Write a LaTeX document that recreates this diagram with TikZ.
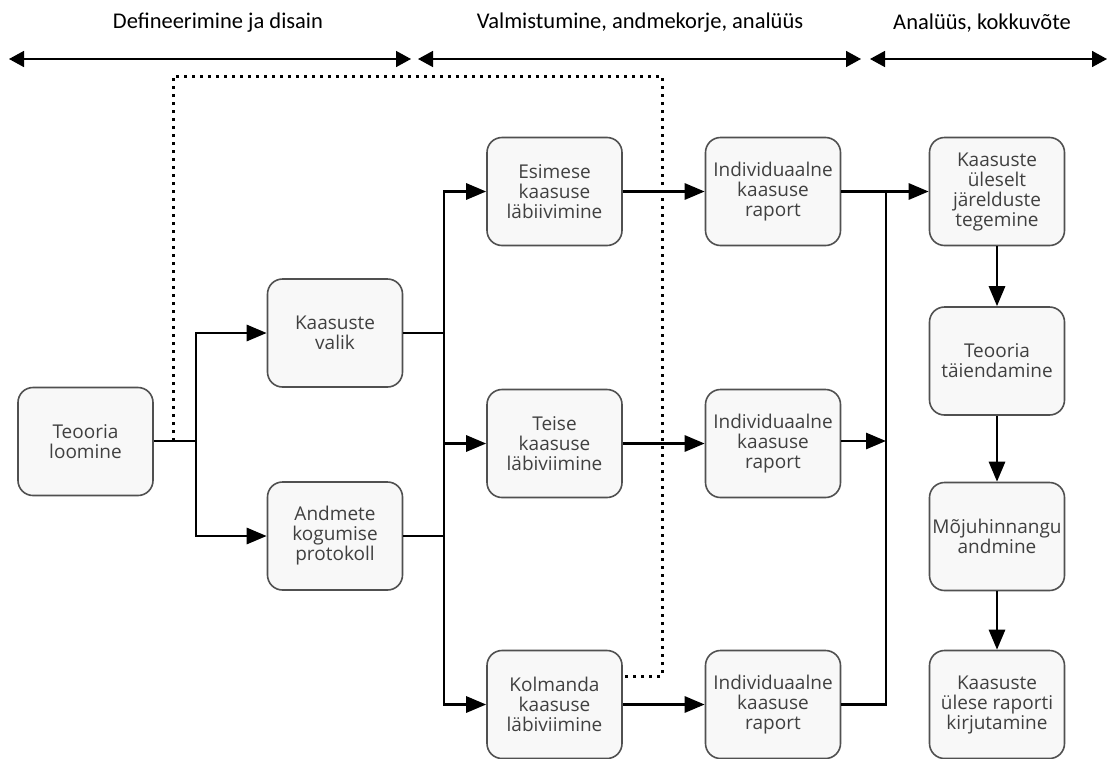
\documentclass[tikz,border=0pt]{standalone}
\usepackage{fontspec}
\setmainfont{Open Sans}
\newfontfamily\hdrfont{Carlito}
\usetikzlibrary{arrows.meta,calc}
\definecolor{boxline}{HTML}{505050}
\definecolor{boxfill}{HTML}{F8F8F8}
\definecolor{boxtext}{HTML}{404040}
\tikzset{
  stepbox/.style={draw=boxline, line width=1.6pt, fill=boxfill, rounded corners=15pt,
    minimum width=135pt, minimum height=108pt, inner sep=2pt, align=center,
    text=boxtext, font=\fontsize{19}{20}\selectfont},
  flow/.style={line width=2.9pt, draw=black},
  flowarrow/.style={flow, -{Triangle[length=20pt,width=16pt]}},
  feedback/.style={line width=3pt, draw=black, dash pattern=on 3pt off 5pt},
  phase/.style={line width=1.6pt, {Triangle[length=15pt,width=16pt]}-{Triangle[length=15pt,width=16pt]}},
  phasetext/.style={font=\hdrfont\fontsize{22.5}{26}\selectfont, text=black}
}
\begin{document}
\begin{tikzpicture}[x=1pt,y=-1pt]
\useasboundingbox (0,0) rectangle (1110,758);

% phase headings
\node[phasetext] (h1) at (218,23) {Defineerimine ja disain};
\node[phasetext] (h2) at (640,23) {Valmistumine, andmekorje, analüüs};
\node[phasetext] (h3) at (982,23) {Analüüs, kokkuvõte};
\coordinate (p1a) at (9,59);   \coordinate (p1b) at (411,59);
\coordinate (p2a) at (418,59); \coordinate (p2b) at (861,59);
\coordinate (p3a) at (870,59); \coordinate (p3b) at (1107,59);
\draw[phase] (p1a) -- (p1b);
\draw[phase] (p2a) -- (p2b);
\draw[phase] (p3a) -- (p3b);

% process steps
\node[stepbox] (teo)   at (85.5,441.5) {Teooria\\loomine};
\node[stepbox] (valik) at (335,333)    {Kaasuste\\valik};
\node[stepbox] (andm)  at (335,536)    {Andmete\\kogumise\\protokoll};
\node[stepbox] (es)    at (554.5,191.5) {Esimese\\kaasuse\\läbiivimine};
\node[stepbox] (te)    at (554.5,443.5) {Teise\\kaasuse\\läbiviimine};
\node[stepbox] (ko)    at (554.5,704.5) {Kolmanda\\kaasuse\\läbiviimine};
\node[stepbox] (r1)    at (773,191.5)  {Individuaalne\\kaasuse\\raport};
\node[stepbox] (r2)    at (773,443.5)  {Individuaalne\\kaasuse\\raport};
\node[stepbox] (r3)    at (773,704.5)  {Individuaalne\\kaasuse\\raport};
\node[stepbox] (k1)    at (997,191.5)  {Kaasuste\\üleselt\\järelduste\\tegemine};
\node[stepbox] (k2)    at (997,361)    {Teooria\\täiendamine};
\node[stepbox] (k3)    at (997,536.5)  {Mõjuhinnangu\\andmine};
\node[stepbox] (k4)    at (997,704.5)  {Kaasuste\\ülese raporti\\kirjutamine};

% junction points
\coordinate (j1) at (196,441);
\coordinate (j2) at (444,441);
\coordinate (j3) at (886,441);
\coordinate (j3top) at (886,193);
\coordinate (dA) at (173,441);
\coordinate (dB) at (662,76);
\coordinate (dC) at (0,676);

% feedback loop (dotted)
\draw[feedback] (dA) |- (dB) |- (ko.east |- dC);

% theory to case selection and protocol
\draw[flow] (teo.east |- j1) -- (j1);
\draw[flowarrow] (j1) |- (valik);
\draw[flowarrow] (j1) |- (andm);

% selection and protocol to the three cases
\draw[flow] (valik.east) -- (valik.east -| j2);
\draw[flow] (andm.east) -- (andm.east -| j2);
\draw[flowarrow] (j2) |- (es);
\draw[flowarrow] (j2 |- te) -- (te);
\draw[flowarrow] (j2) |- (ko);

% cases to individual reports
\draw[flowarrow] (es) -- (r1);
\draw[flowarrow] (te) -- (r2);
\draw[flowarrow] (ko) -- (r3);

% reports to cross-case analysis
\draw[flowarrow] (r1) -- (k1);
\draw[flow] (r3.east) -| (j3top);
\draw[flowarrow] (r2.east |- j3) -- (j3);

% synthesis chain
\draw[flowarrow] (k1) -- (k2);
\draw[flowarrow] (k2) -- (k3);
\draw[flowarrow] (k3) -- (k4);
\end{tikzpicture}
\end{document}
